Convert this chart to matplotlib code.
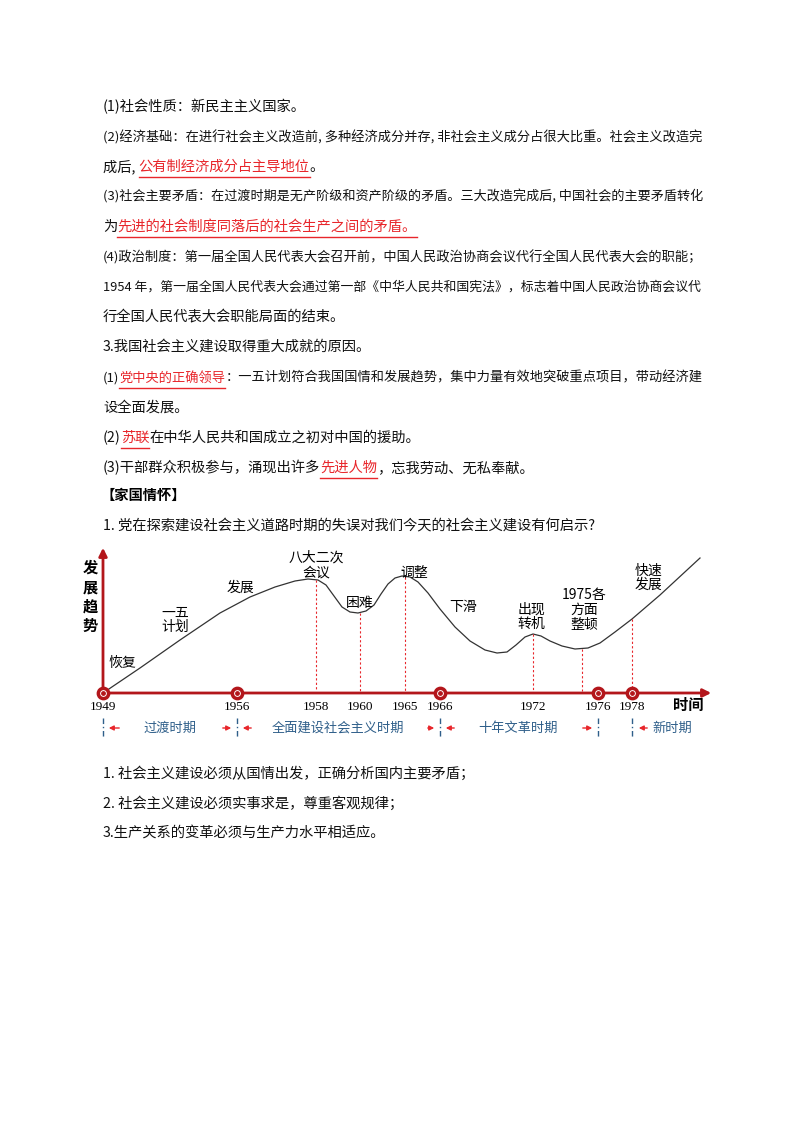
import matplotlib
matplotlib.use('Agg')
import matplotlib.pyplot as plt

plt.rcParams['font.family'] = ['Noto Sans CJK SC', 'DejaVu Sans']

RED = '#e8262b'
DARK = '#b3161b'
BLUE = '#2f5f8a'

# body text: list of (segments, y); a segment is (text, red_underlined)
body = [
    ([("(1)社会性质：新民主主义国家。", False)], 107),
    ([("(2)经济基础：在进行社会主义改造前, 多种经济成分并存, 非社会主义成分占很大比重。社会主义改造完", False)], 137),
    ([("成后, ", False), ("公有制经济成分占主导地位", True), ("。", False)], 167),
    ([("(3)社会主要矛盾：在过渡时期是无产阶级和资产阶级的矛盾。三大改造完成后, 中国社会的主要矛盾转化", False)], 197),
    ([("为", False), ("先进的社会制度同落后的社会生产之间的矛盾。", True)], 227),
    ([("(4)政治制度：第一届全国人民代表大会召开前，中国人民政治协商会议代行全国人民代表大会的职能；", False)], 257),
    ([("1954 年，第一届全国人民代表大会通过第一部《中华人民共和国宪法》，标志着中国人民政治协商会议代", False)], 287),
    ([("行全国人民代表大会职能局面的结束。", False)], 317),
    ([("3.我国社会主义建设取得重大成就的原因。", False)], 347),
    ([("(1)", False), ("党中央的正确领导", True), ("：一五计划符合我国国情和发展趋势，集中力量有效地突破重点项目，带动经济建", False)], 378),
    ([("设全面发展。", False)], 408),
    ([("(2)", False), ("苏联", True), ("在中华人民共和国成立之初对中国的援助。", False)], 438),
    ([("(3)干部群众积极参与，涌现出许多", False), ("先进人物", True), ("，忘我劳动、无私奉献。", False)], 468),
    ([("1. 党在探索建设社会主义道路时期的失误对我们今天的社会主义建设有何启示?", False)], 525),
    ([("1. 社会主义建设必须从国情出发，正确分析国内主要矛盾；", False)], 773),
    ([("2. 社会主义建设必须实事求是，尊重客观规律；", False)], 803),
    ([("3.生产关系的变革必须与生产力水平相适应。", False)], 833),
]

# chart data (positions in page pixels)
trend_x = [103, 140, 180, 220, 250, 275, 295, 308, 318, 326, 334, 342, 350, 358, 366, 374, 381,
           388, 395, 402, 410, 418, 428, 440, 455, 470, 485, 497, 507, 516, 525, 533, 541,
           550, 562, 575, 588, 600, 615, 632, 660, 700]
trend_y = [693, 668, 640, 613, 597, 587, 581, 579, 580, 585, 596, 607, 612, 613, 611, 605, 594,
           584, 578, 576, 577, 582, 593, 609, 627, 641, 650, 653, 652, 645, 637, 634, 636,
           641, 646, 649, 648, 643, 632, 619, 595, 558]
dot_years = ["1949", "1956", "1966", "1976", "1978"]
dot_x = [103, 237, 440, 598, 632]
mark_years = ["1958", "1960", "1965", "1972"]
mark_x = [316, 360, 405, 533]
drop_x = [316, 360, 405, 533, 582, 632]
drop_top = [580, 613, 577, 634, 649, 619]
stage_labels = ["恢复", "一五\n计划", "发展", "八大二次\n会议", "困难", "调整", "下滑", "出现\n转机", "1975各\n方面\n整顿", "快速\n发展"]
stage_x = [122, 175, 240, 316, 360, 414, 463, 531, 584, 648]
stage_y = [663, 620, 588, 565, 603, 573, 607, 617, 610, 578]
period_labels = ["过渡时期", "全面建设社会主义时期", "十年文革时期", "新时期"]
period_x = [170, 338, 518, 672]

fig = plt.figure(figsize=(8, 11.32), dpi=100)
ax = fig.add_axes([0, 0, 1, 1])
ax.set_xlim(0, 800)
ax.set_ylim(1132, 0)
ax.axis('off')

fig.canvas.draw()
r = fig.canvas.get_renderer()
MAXW = 596
for segs, y in body:
    # shrink the font of lines that would run past the right margin
    fs = 10.3
    probe = ax.text(0, 0, "".join(s for s, _ in segs), fontsize=fs)
    full = probe.get_window_extent(renderer=r).width
    probe.remove()
    if full > MAXW:
        fs = fs * MAXW / full
    x = 103
    for s, red in segs:
        t = ax.text(x, y, s, fontsize=fs, va='center', ha='left', color=RED if red else '#111111')
        w = t.get_window_extent(renderer=r).width
        if red:
            ax.plot([x, x + w], [y + 10, y + 10], color=RED, lw=1)
        x += w
ax.text(101, 496, "【家国情怀】", fontsize=10.3, fontweight='bold', va='center')

# axes arrows
ax.annotate('', xy=(103, 545), xytext=(103, 694),
            arrowprops=dict(arrowstyle='-|>', color=DARK, lw=2, mutation_scale=12))
ax.annotate('', xy=(714, 693), xytext=(102, 693),
            arrowprops=dict(arrowstyle='-|>', color=DARK, lw=2, mutation_scale=12))
ax.text(90, 597, "发\n展\n趋\n势", fontsize=11, fontweight='bold', ha='center', va='center', linespacing=1.25)
ax.text(688, 705, "时间", fontsize=11, fontweight='bold', ha='center', va='center')

ax.plot(trend_x, trend_y, color='#333333', lw=0.9, solid_joinstyle='round')
for x, t in zip(drop_x, drop_top):
    ax.plot([x, x], [t, 691], color=RED, lw=0.8, ls=(0, (2, 2)))
ax.scatter(dot_x, [693] * len(dot_x), s=55, facecolor='white', edgecolor=DARK, linewidth=2.5, zorder=5)
ax.scatter(dot_x, [693] * len(dot_x), s=6, color=DARK, zorder=6)
for lab, x in zip(dot_years + mark_years, dot_x + mark_x):
    ax.text(x, 707, lab, fontsize=9.5, family='Liberation Serif', ha='center', va='center')
for lab, x, y in zip(stage_labels, stage_x, stage_y):
    ax.text(x, y, lab, fontsize=10, ha='center', va='center', linespacing=1.05)

# periods
for x in dot_x:
    ax.plot([x, x], [718, 738], color=BLUE, lw=1, ls=(0, (4, 2, 1, 2)))
for lab, x in zip(period_labels, period_x):
    ax.text(x, 728, lab, fontsize=9.5, color=BLUE, ha='center', va='center')
for a, b in [(106, 122), (220, 234), (240, 254), (425, 437), (443, 457), (580, 595), (636, 650)]:
    ax.annotate('', xy=(a, 728) if a in (106, 240, 443, 636) else (b, 728),
                xytext=(b, 728) if a in (106, 240, 443, 636) else (a, 728),
                arrowprops=dict(arrowstyle='-|>', color=RED, lw=1, mutation_scale=7))

fig.savefig('out.png', dpi=100)
